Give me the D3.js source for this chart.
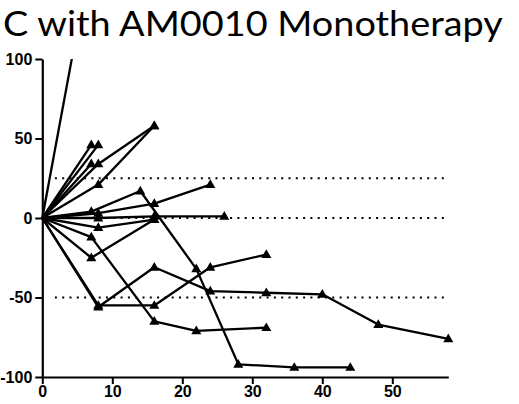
<!DOCTYPE html>
<html>
<head>
<meta charset="utf-8">
<script src="https://cdnjs.cloudflare.com/ajax/libs/d3/7.8.5/d3.min.js"></script>
<style>
  html, body { margin: 0; padding: 0; background: #fff; }
  svg { display: block; }
</style>
</head>
<body>
<svg id="chart" width="519" height="404"></svg>
<script>
'use strict';

var titleText = 'C with AM0010 Monotherapy';
var xTicks = [0, 10, 20, 30, 40, 50];
var yTicks = [100, 50, 0, -50, -100];
var referenceLines = [25, 0, -50];

// weeks on treatment and % change from baseline, one row per patient
var patientWeeks = [
  [0, 8],
  [0, 7],
  [0, 8],
  [0, 7],
  [0, 8, 16],
  [0, 8, 16],
  [0, 7, 14, 22, 28, 36, 44],
  [0, 8, 16, 24],
  [0, 8, 16, 26],
  [0, 8, 16],
  [0, 7, 16],
  [0, 7, 16, 22, 32],
  [0, 8, 16, 24, 32],
  [0, 8, 16, 24, 32, 40, 48, 58]
];
var patientChange = [
  [0, 190],
  [0, 46],
  [0, 46],
  [0, 34],
  [0, 34, 58],
  [0, 21, 58],
  [0, 4, 17, -32, -92, -94, -94],
  [0, 3, 9, 21],
  [0, 0, 1, 1],
  [0, -6, -1],
  [0, -25, -1],
  [0, -12, -65, -71, -69],
  [0, -55, -55, -31, -23],
  [0, -56, -31, -46, -47, -48, -67, -76]
];

(function() {
  var svg = d3.select('#chart');

  var x = d3.scaleLinear().domain([0, 58]).range([42.3, 448.3]);
  var y = d3.scaleLinear().domain([-100, 100]).range([377, 59]);

  // title, cut off on the left in the original slide
  var title = svg.append('text')
    .attr('x', 0)
    .attr('y', 0)
    .attr('text-anchor', 'start')
    .style('font-family', 'Lato')
    .style('font-size', '35px')
    .style('fill', '#000')
    .text(titleText);
  var bb = title.node().getBBox();
  var sx = 500 / bb.width;
  title.attr('transform', 'translate(' + (3 - bb.x * sx) + ',35.5) scale(' + sx + ',1)');

  svg.append('defs').append('clipPath')
    .attr('id', 'plot-clip')
    .append('rect')
    .attr('x', x(0) - 10)
    .attr('y', y(100))
    .attr('width', x(58) - x(0) + 20)
    .attr('height', y(-100) - y(100) + 10);

  svg.append('g')
    .selectAll('line')
    .data(referenceLines)
    .enter()
    .append('line')
    .attr('x1', x(1.8))
    .attr('x2', x(57.6))
    .attr('y1', function(d) { return y(d); })
    .attr('y2', function(d) { return y(d); })
    .attr('stroke', '#000')
    .attr('stroke-width', 2)
    .attr('stroke-dasharray', '2,5.3');

  var yAxis = svg.append('g')
    .attr('transform', 'translate(' + x(0) + ',0)')
    .call(d3.axisLeft(y).tickValues(yTicks).tickSize(7).tickPadding(3).tickSizeOuter(0));
  var xAxis = svg.append('g')
    .attr('transform', 'translate(0,' + y(-100) + ')')
    .call(d3.axisBottom(x).tickValues(xTicks).tickSize(7).tickPadding(2).tickSizeOuter(0));

  [xAxis, yAxis].forEach(function(axis) {
    axis.select('.domain').attr('stroke', '#000').attr('stroke-width', 2.2);
    axis.selectAll('.tick line').attr('stroke', '#000').attr('stroke-width', 2);
    axis.selectAll('.tick text')
      .style('font-family', 'Liberation Sans, Arial, sans-serif')
      .style('font-weight', 'bold')
      .style('font-size', '16px')
      .style('fill', '#000');
  });
  yAxis.selectAll('.tick text').text(function(d) { return d < 0 ? '-' + Math.abs(d) : d; });

  var series = patientWeeks.map(function(weeks, i) {
    return weeks.map(function(wk, j) {
      return { week: wk, change: patientChange[i][j] };
    });
  });

  var line = d3.line()
    .x(function(d) { return x(d.week); })
    .y(function(d) { return y(d.change); });

  var plot = svg.append('g').attr('clip-path', 'url(#plot-clip)');

  plot.selectAll('path.patient')
    .data(series)
    .enter()
    .append('path')
    .attr('class', 'patient')
    .attr('d', line)
    .attr('fill', 'none')
    .attr('stroke', '#000')
    .attr('stroke-width', 2.3)
    .attr('stroke-linejoin', 'round');

  var triangle = d3.symbol().type(d3.symbolTriangle).size(44);
  var markers = [];
  series.forEach(function(s) {
    s.forEach(function(d) {
      if (d.week > 0) {
        markers.push(d);
      }
    });
  });

  plot.selectAll('path.marker')
    .data(markers)
    .enter()
    .append('path')
    .attr('class', 'marker')
    .attr('d', triangle)
    .attr('transform', function(d) {
      return 'translate(' + x(d.week) + ',' + (y(d.change) + 0.5) + ')';
    })
    .attr('fill', '#000');
})();
</script>
</body>
</html>
